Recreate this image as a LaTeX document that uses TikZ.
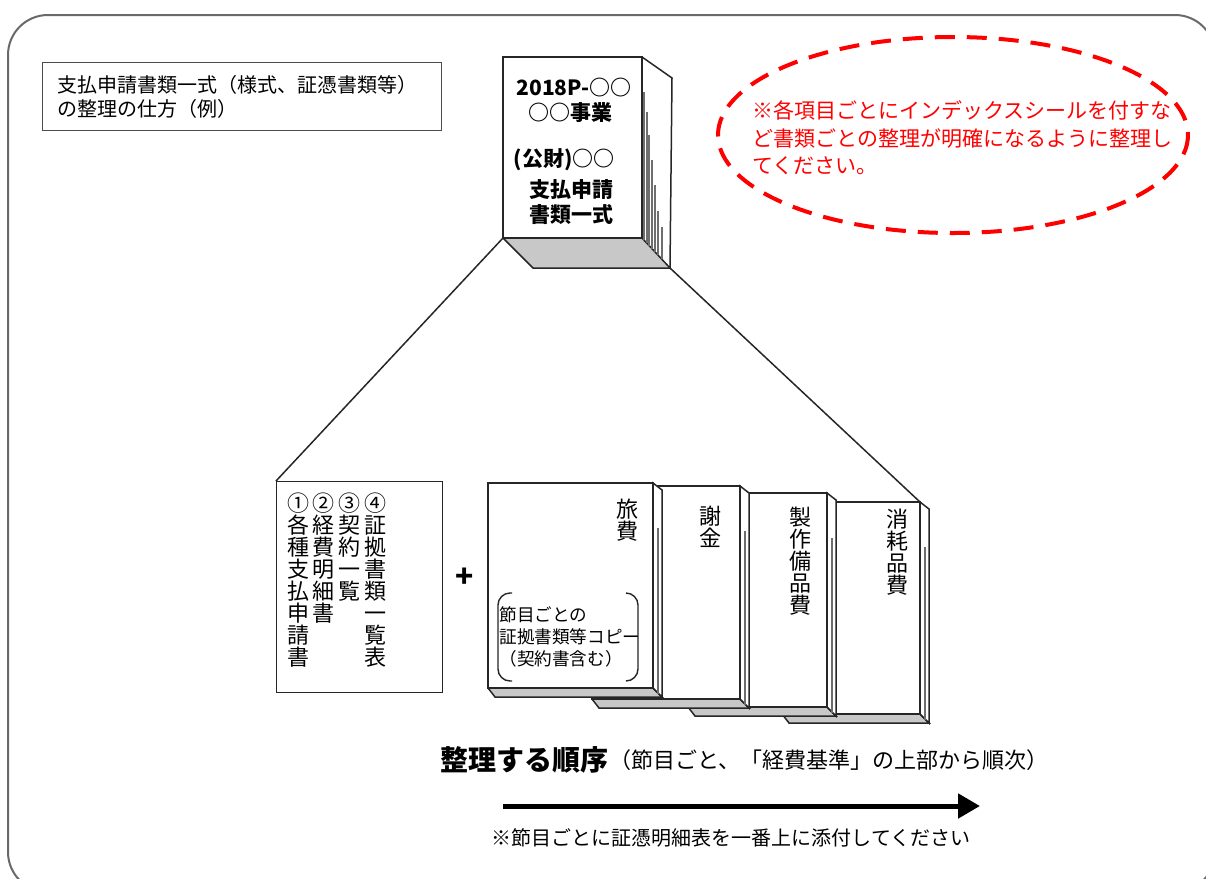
\documentclass[tikz,border=0pt]{standalone}
\usepackage{fontspec}
\setmainfont{Noto Sans CJK JP}
\usetikzlibrary{arrows.meta}

\tikzset{
  outline/.style={draw=black!85, line width=0.75pt},
  vcol/.style={anchor=north, inner sep=0pt, align=center, font=\fontsize{11}{11}\selectfont},
  bindertext/.style={inner sep=0pt, font=\bfseries\fontsize{10.5}{10.5}\selectfont},
  bracket/.style={draw=black!85, line width=0.7pt, rounded corners=6pt},
}

\begin{document}
\begin{tikzpicture}[x=0.5pt,y=-0.5pt,line join=miter]
\definecolor{framegray}{RGB}{105,105,105}
\definecolor{pagegray}{RGB}{110,110,110}
\definecolor{basegray}{RGB}{200,200,200}
\definecolor{notered}{RGB}{255,0,0}

% one folder: name, left, top, right, bottom
\newcommand{\folderbox}[5]{
  \fill[basegray] (#2,#5) -- (#4,#5) -- ({#4+9},{#5+9}) -- ({#2+7},{#5+9}) -- cycle;
  \draw[outline] (#2,#5) -- ({#2+7},{#5+9}) -- ({#4+9},{#5+9}) -- (#4,#5);
  \filldraw[outline, fill=white] (#4,#3) -- ({#4+9},{#3+7}) -- ({#4+9},{#5+9}) -- (#4,#5) -- cycle;
  \draw[pagegray, line width=1.2pt] ({#4+5},{#3+45}) -- ({#4+5},{#5+6});
  \filldraw[outline, fill=white] (#2,#3) rectangle (#4,#5);
  \coordinate (#1-tr) at (#4,#3);
}

\clip (0,0) rectangle (1206,879);

% frame
\draw[framegray, line width=1pt, rounded corners=20pt] (8,15) rectangle (1215,892);

% heading
\node[draw=black!70, line width=0.7pt, anchor=north west, minimum width=199.5pt,
  minimum height=34pt, inner xsep=7.5pt, text width=184.5pt, align=left,
  font=\fontsize{10}{12}\selectfont] (title) at (42,62)
  {支払申請書類一式（様式、証憑書類等）\\の整理の仕方（例）};

% binder
\coordinate (b-tl) at (503,57);
\coordinate (b-tr) at (642,57);
\coordinate (b-br) at (642,238);
\coordinate (b-bl) at (503,238);
\coordinate (b-back) at (670,268);
\fill[basegray] (b-bl) -- (b-br) -- (b-back) -- (533,268) -- cycle;
\draw[outline] (b-bl) -- (533,268) -- (b-back);
\draw[outline] (b-tr) -- (672,78) -- (b-back) -- (b-br);
\foreach \px/\py in {644/92, 647/112, 649/135, 652/160, 655/185, 658/211, 662/227}
  \draw[pagegray, line width=1.1pt] (\px,\py) -- (\px,{238+(\px-642)*30/28});
\filldraw[outline, fill=white] (b-tl) rectangle (b-br);

\node[bindertext] (b-no) at (574,88) {2018P-○○};
\node[bindertext] (b-job) at (570,113) {○○事業};
\node[bindertext] (b-org) at (564,160) {(公財)○○};
\node[bindertext] (b-pay) at (571,190) {支払申請};
\node[bindertext] (b-set) at (571,215) {書類一式};

% memo
\draw[notered, line width=2pt, dash pattern=on 10pt off 6pt] (953,135) ellipse [x radius=235, y radius=98];
\node[anchor=west, align=left, inner sep=0pt, text=notered,
  font=\fontsize{10.5}{13.75}\selectfont] (memo) at (752,138)
  {※各項目ごとにインデックスシールを付すな\\ど書類ごとの整理が明確になるように整理し\\てください。};

% list sheet
\node[draw=black!85, line width=0.7pt, minimum width=83pt, minimum height=105.5pt,
  inner sep=0pt, anchor=north west] (list) at (276,481) {};
\node[vcol] (col1) at (298,492) {①\\各\\種\\支\\払\\申\\請\\書};
\node[vcol] (col2) at (323,492) {②\\経\\費\\明\\細\\書};
\node[vcol] (col3) at (349,492) {③\\契\\約\\一\\覧};
\node[vcol] (col4) at (375,492) {④\\証\\拠\\書\\類\\一\\覧\\表};

\node[inner sep=0pt, font=\bfseries\fontsize{15}{15}\selectfont] (plus) at (465,578) {+};

% folders, back to front
\folderbox{f4}{782}{502}{920}{714}
\folderbox{f3}{688}{493}{827}{707}
\folderbox{f2}{592}{486}{740}{699}
\folderbox{f1}{488}{483}{653}{688}

\node[vcol] (f1-name) at (627,499) {旅\\費};
\node[vcol] (f2-name) at (710,506) {謝\\金};
\node[vcol] (f3-name) at (800,507) {製\\作\\備\\品\\費};
\node[vcol] (f4-name) at (897,509) {消\\耗\\品\\費};

\draw[bracket] (512,593) -- (498,593) -- (498,681) -- (512,681);
\draw[bracket] (626,593) -- (638,593) -- (638,681) -- (626,681);
\node[anchor=west, align=left, inner sep=0pt, font=\fontsize{8.8}{11}\selectfont]
  (copy) at (499,637) {節目ごとの\\証拠書類等コピー\\（契約書含む）};

% zoom lines from the binder
\draw[outline] (b-bl) -- (list.north west);
\draw[outline] (b-back) -- (f4-tr);

% order
\node[anchor=west, inner sep=0pt, font=\bfseries\fontsize{14}{14}\selectfont] (order) at (440,760) {整理する順序};
\node[anchor=west, inner sep=0pt, font=\fontsize{11}{11}\selectfont] (order-note) at (order.east)
  {（節目ごと、「経費基準」の上部から順次）};

\coordinate (arr-s) at (503,806);
\coordinate (arr-e) at (980,806);
\draw[line width=2.5pt, -{Triangle[length=11pt,width=12pt]}] (arr-s) -- (arr-e);

\node[inner sep=0pt, font=\fontsize{10}{10}\selectfont] (foot) at (731,838)
  {※節目ごとに証憑明細表を一番上に添付してください};
\end{tikzpicture}
\end{document}
